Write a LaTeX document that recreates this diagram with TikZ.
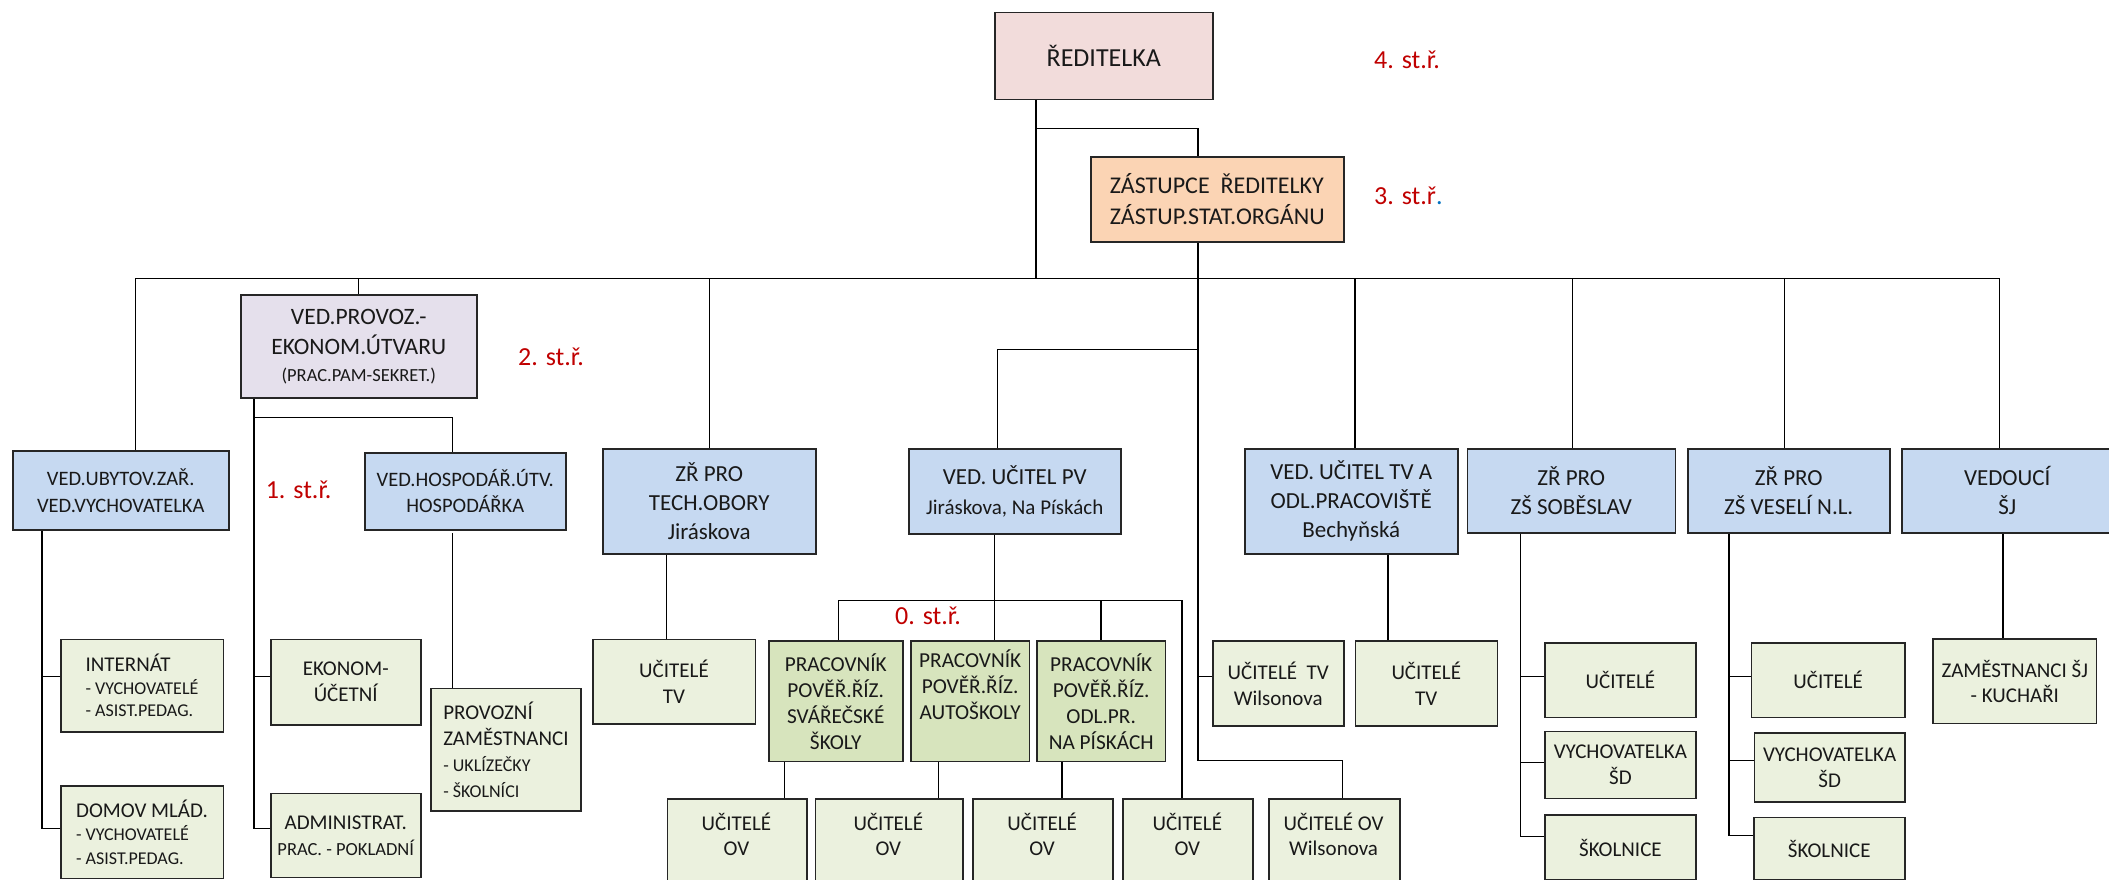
\documentclass[tikz,border=0pt]{standalone}
\usepackage{fontspec}
\setmainfont{Carlito}
\definecolor{cred}{HTML}{F2DCDB}
\definecolor{cpeach}{HTML}{FBD4B4}
\definecolor{clav}{HTML}{E5E0EC}
\definecolor{cblue}{HTML}{C6D9F1}
\definecolor{cgreen}{HTML}{EBF1DE}
\definecolor{cdgreen}{HTML}{D7E4BD}
\definecolor{stred}{HTML}{C00000}
\definecolor{stblue}{HTML}{0070C0}
\tikzset{
  bx/.style={draw=black!85, line width=1.5pt, anchor=north west, inner sep=0pt, align=center, text=black!90},
  bxb/.style={bx, fill=cblue, font=\fontsize{23}{29}\selectfont},
  bxg/.style={bx, fill=cgreen, font=\fontsize{21}{26}\selectfont},
  bxd/.style={bx, fill=cdgreen, font=\fontsize{21.3}{26}\selectfont},
  conn/.style={draw=black, line width=1.3pt},
  lbl/.style={text=stred, anchor=base west, inner sep=0pt, font=\fontsize{26}{30}\selectfont},
  ovtxt/.style={inner sep=0pt, align=center, text=black!90, font=\fontsize{21}{25}\selectfont},
}
\begin{document}
\begin{tikzpicture}[x=1pt,y=-1pt]
\useasboundingbox (0,0) rectangle (2109,880);

% ---------- top level
\node[bx, fill=cred, minimum width=218, minimum height=87, font=\fontsize{26}{30}\selectfont] (red) at (994,12) {ŘEDITELKA};
\node[bx, fill=cpeach, minimum width=253, minimum height=85, align=left, font=\fontsize{24}{31.5}\selectfont] (deputy) at (1090,156) {ZÁSTUPCE\ \ ŘEDITELKY\\ZÁSTUP.STAT.ORGÁNU};
\node[bx, fill=clav, minimum width=236, minimum height=103, font=\fontsize{23.5}{30}\selectfont] (provoz) at (240,294) {VED.PROVOZ.-\\EKONOM.ÚTVARU\\[-3pt]{\fontsize{18.5}{24}\selectfont (PRAC.PAM-SEKRET.)}};

% ---------- blue row
\node[bxb, minimum width=216, minimum height=79, font=\fontsize{20.5}{27}\selectfont] (ubyt) at (12,450) {VED.UBYTOV.ZAŘ.\\VED.VYCHOVATELKA};
\node[bxb, minimum width=201, minimum height=77, font=\fontsize{20.5}{26}\selectfont] (hosp) at (364,452) {VED.HOSPODÁŘ.ÚTV.\\HOSPODÁŘKA};
\node[bxb, minimum width=213, minimum height=105] (tech) at (602,448) {ZŘ PRO\\TECH.OBORY\\Jiráskova};
\node[bxb, minimum width=212, minimum height=85, font=\fontsize{23}{29.5}\selectfont] (pv) at (908,448) {VED. UČITEL PV\\{\fontsize{21}{29.5}\selectfont Jiráskova, Na Pískách}};
\node[bxb, minimum width=213, minimum height=105] (tva) at (1244,448) {VED. UČITEL TV A\\ODL.PRACOVIŠTĚ\\Bechyňská};
\node[bxb, minimum width=208, minimum height=84] (sob) at (1466.5,448) {ZŘ PRO\\ZŠ SOBĚSLAV};
\node[bxb, minimum width=202, minimum height=84] (ves) at (1687,448) {ZŘ PRO\\ZŠ VESELÍ N.L.};
\node[bxb, minimum width=211, minimum height=84] (sj) at (1901,448) {VEDOUCÍ\\ŠJ};

% ---------- green boxes
\node[bxg, minimum width=162.5, minimum height=92.5, align=left, font=\fontsize{21}{22.7}\selectfont] (internat) at (60,638.5) {INTERNÁT\\{\fontsize{18}{22.7}\selectfont - VYCHOVATELÉ}\\{\fontsize{18}{22.7}\selectfont - ASIST.PEDAG.}};
\node[bxg, minimum width=162.5, minimum height=92.7, align=left, font=\fontsize{21}{23.3}\selectfont] (domov) at (60,785) {DOMOV MLÁD.\\{\fontsize{18}{23.3}\selectfont - VYCHOVATELÉ}\\{\fontsize{18}{23.3}\selectfont - ASIST.PEDAG.}};
\node[bxg, minimum width=150, minimum height=85.6] (ekonom) at (270,638.7) {EKONOM-\\ÚČETNÍ};
\node[bxg, minimum width=150, minimum height=84] (admin) at (270,792.7) {ADMINISTRAT.\\{\fontsize{18.5}{26}\selectfont PRAC. - POKLADNÍ}};
\node[bxg, minimum width=150.4, minimum height=122.3, align=left] (provozni) at (430,687.7) {PROVOZNÍ\\ZAMĚSTNANCI\\{\fontsize{18}{26}\selectfont - UKLÍZEČKY}\\{\fontsize{18}{26}\selectfont - ŠKOLNÍCI}};
\node[bxg, minimum width=162.5, minimum height=84.3] (ucitv1) at (592,638.7) {UČITELÉ\\TV};
\node[bxd, minimum width=134, minimum height=120.4] (prac1) at (768,640.3) {PRACOVNÍK\\POVĚŘ.ŘÍZ.\\SVÁŘEČSKÉ\\ŠKOLY};
\node[bxd, minimum width=118.3, minimum height=120.4] (prac2) at (910.3,640.3) {PRACOVNÍK\\POVĚŘ.ŘÍZ.\\AUTOŠKOLY\\\strut};
\node[bxd, minimum width=128.5, minimum height=120.4] (prac3) at (1036.2,640.3) {PRACOVNÍK\\POVĚŘ.ŘÍZ.\\ODL.PR.\\NA PÍSKÁCH};
\node[bxg, minimum width=131, minimum height=84.7] (wil) at (1212,640.3) {UČITELÉ\ \ TV\\Wilsonova};
\node[bxg, minimum width=142, minimum height=84.7] (ucitv2) at (1354.5,640.3) {UČITELÉ\\TV};
\node[bxg, minimum width=150.7, minimum height=74.4] (sobu) at (1544.3,642.3) {UČITELÉ};
\node[bxg, minimum width=150.7, minimum height=67] (sobv) at (1544.3,730.7) {VYCHOVATELKA\\ŠD};
\node[bxg, minimum width=150.7, minimum height=65] (sobs) at (1544.3,814.3) {ŠKOLNICE};
\node[bxg, minimum width=153.3, minimum height=74.4] (vesu) at (1750.7,642.3) {UČITELÉ};
\node[bxg, minimum width=150.2, minimum height=69] (vesv) at (1753.8,732) {VYCHOVATELKA\\ŠD};
\node[bxg, minimum width=151, minimum height=62.6] (vess) at (1753,816.7) {ŠKOLNICE};
\node[bxg, minimum width=163.4, minimum height=84.4, font=\fontsize{21}{25}\selectfont] (sjz) at (1932.3,638.3) {ZAMĚSTNANCI ŠJ\\- KUCHAŘI};

% ---------- bottom row (cut by the page edge)
\node[bxg, minimum width=139.8, minimum height=110] (ov1) at (666.5,798.3) {};
\node[bxg, minimum width=147.3, minimum height=110] (ov2) at (814.7,798.3) {};
\node[bxg, minimum width=139.7, minimum height=110] (ov3) at (972.3,798.3) {};
\node[bxg, minimum width=130, minimum height=110] (ov4) at (1122.3,798.3) {};
\node[bxg, minimum width=130.7, minimum height=110] (ov5) at (1268.3,798.3) {};
\node[ovtxt] (ov1t) at (736.4,834) {UČITELÉ\\OV};
\node[ovtxt] (ov2t) at (888.3,834) {UČITELÉ\\OV};
\node[ovtxt] (ov3t) at (1042.1,834) {UČITELÉ\\OV};
\node[ovtxt] (ov4t) at (1187.3,834) {UČITELÉ\\OV};
\node[ovtxt] (ov5t) at (1333.6,834) {UČITELÉ OV\\Wilsonova};

% ---------- level labels
\node[lbl] (l4) at (1374,68.3) {4. st.ř.};
\node[lbl] (l3) at (1374,204) {3. st.ř\textcolor{stblue}{.}};
\node[lbl] (l2) at (518,365.7) {2. st.ř.};
\node[lbl] (l1) at (265.6,498.3) {1. st.ř.};
\node[lbl] (l0) at (895,624.3) {0. st.ř.};

% ---------- connectors
\coordinate (b1) at (1036,278.3);
\coordinate (t1) at (1036,128.3);
\coordinate (t2) at (1198,128.3);
\draw[conn] (red.south -| b1) -- (b1);
\draw[conn] (t1) -- (t2) -- (deputy.north -| t2);

\coordinate (d1) at (1198,760.7);
\coordinate (d2) at (1342.6,760.7);
\coordinate (d3) at (1198,676.7);
\coordinate (d4) at (1198,349.3);
\coordinate (d5) at (997.8,349.3);
\draw[conn] (deputy.south -| d1) -- (d1) -- (d2) -- (ov5.north -| d2);
\draw[conn] (d3) -- (wil.west |- d3);
\draw[conn] (d4) -- (d5) -- (pv.north -| d5);

\coordinate (busL) at (135.7,278.3);
\coordinate (busR) at (1999.5,278.3);
\coordinate (bP) at (358.5,278.3);
\coordinate (bT) at (709.8,278.3);
\coordinate (bA) at (1354.9,278.3);
\coordinate (bS) at (1572.4,278.3);
\coordinate (bV) at (1784.6,278.3);
\draw[conn] (ubyt.north -| busL) -- (busL) -- (busR) -- (sj.north -| busR);
\draw[conn] (bP) -- (provoz.north -| bP);
\draw[conn] (bT) -- (tech.north -| bT);
\draw[conn] (bA) -- (tva.north -| bA);
\draw[conn] (bS) -- (sob.north -| bS);
\draw[conn] (bV) -- (ves.north -| bV);

\coordinate (p1) at (254,828.3);
\coordinate (p2) at (254,676.7);
\coordinate (p3) at (254,417.7);
\coordinate (p4) at (452.5,417.7);
\coordinate (h1) at (452.5,533);
\draw[conn] (provoz.south -| p1) -- (p1) -- (admin.west |- p1);
\draw[conn] (p2) -- (ekonom.west |- p2);
\draw[conn] (p3) -- (p4) -- (hosp.north -| p4);
\draw[conn] (h1) -- (provozni.north -| h1);

\coordinate (u1) at (42,828.3);
\coordinate (u2) at (42,676.7);
\draw[conn] (ubyt.south -| u1) -- (u1) -- (domov.west |- u1);
\draw[conn] (u2) -- (internat.west |- u2);

\coordinate (c1) at (666.5,600);
\draw[conn] (tech.south -| c1) -- (ucitv1.north -| c1);

\coordinate (v0) at (994.2,600.7);
\coordinate (v1) at (838.4,600.7);
\coordinate (v3) at (1100.9,600.7);
\coordinate (v4) at (1182.1,600.7);
\draw[conn] (pv.south -| v0) -- (prac2.north -| v0);
\draw[conn] (prac1.north -| v1) -- (v1) -- (v4) -- (ov4.north -| v4);
\draw[conn] (v3) -- (prac3.north -| v3);

\coordinate (q1) at (784.4,780);
\coordinate (q2) at (938.4,780);
\coordinate (q3) at (1062.1,780);
\draw[conn] (prac1.south -| q1) -- (ov1.north -| q1);
\draw[conn] (prac2.south -| q2) -- (ov2.north -| q2);
\draw[conn] (prac3.south -| q3) -- (ov3.north -| q3);

\coordinate (a1) at (1387.9,600);
\draw[conn] (tva.south -| a1) -- (ucitv2.north -| a1);

\coordinate (s0) at (1520.8,836.7);
\coordinate (s1) at (1520.8,676.7);
\coordinate (s2) at (1520.8,762.7);
\draw[conn] (sob.south -| s0) -- (s0) -- (sobs.west |- s0);
\draw[conn] (s1) -- (sobu.west |- s1);
\draw[conn] (s2) -- (sobv.west |- s2);

\coordinate (w0) at (1729,835.3);
\coordinate (w1) at (1729,676.7);
\coordinate (w2) at (1729,760.7);
\draw[conn] (ves.south -| w0) -- (w0) -- (vess.west |- w0);
\draw[conn] (w1) -- (vesu.west |- w1);
\draw[conn] (w2) -- (vesv.west |- w2);

\coordinate (j1) at (2003,600);
\draw[conn] (sj.south -| j1) -- (sjz.north -| j1);
\end{tikzpicture}
\end{document}
